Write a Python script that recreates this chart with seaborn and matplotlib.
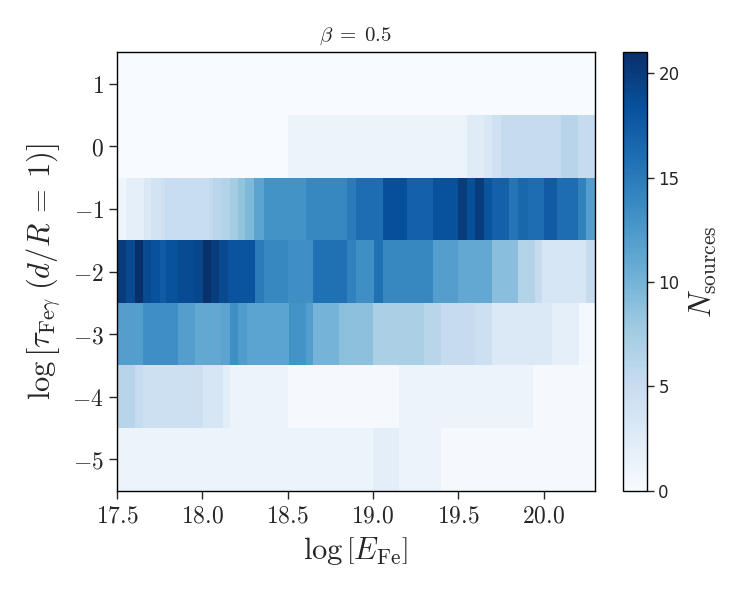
import numpy as np
import pandas as pd
import matplotlib
matplotlib.use("Agg")
import matplotlib.pyplot as plt
import seaborn as sns

# log tau rows (top to bottom)
log_tau_rows = [1, 0, -1, -2, -3, -4, -5]

# Each row: left edges of constant-count segments in log E, and counts
row_p1_edges = [17.5]
row_p1_counts = [0]

row_0_edges = [17.5, 18.50, 19.55, 19.65, 19.70, 19.75, 20.10, 20.20]
row_0_counts = [0, 1.2, 2.5, 3.3, 4.3, 5.2, 6.3, 5.2]

row_m1_edges = [17.5, 17.557, 17.66, 17.70, 17.76, 17.78, 18.04, 18.06, 18.11, 18.16,
                18.21, 18.25, 18.30, 18.36, 18.61, 18.85, 18.90, 19.06, 19.20, 19.35,
                19.50, 19.55, 19.60, 19.65, 19.70, 19.80, 19.85, 19.91, 20.00, 20.08,
                20.20, 20.25]
row_m1_counts = [1, 2, 3, 4, 4.5, 5, 5.5, 6, 6.5, 7.5,
                 8.5, 9.5, 11.5, 13, 14, 15, 16, 18.5, 17, 18.3,
                 20, 18.5, 20, 18, 17, 15.5, 16.5, 16, 17.5, 16,
                 14.5, 12]

row_m2_edges = [17.5, 17.557, 17.605, 17.654, 17.70, 17.75, 17.79, 17.86, 17.96, 18.005,
                18.05, 18.10, 18.15, 18.31, 18.36, 18.50, 18.65, 18.85, 18.90, 19.005,
                19.06, 19.35, 19.50, 19.70, 19.85, 19.95, 19.99, 20.25]
row_m2_counts = [20, 19, 21, 19, 18.3, 17.5, 18.3, 18.8, 19.2, 21,
                 20, 19, 18.2, 15, 14, 13.3, 15.8, 14.5, 13.3, 15.8,
                 14, 12, 11, 9, 6.5, 5.2, 3.5, 5.2]

row_m3_edges = [17.5, 17.654, 17.86, 17.96, 18.11, 18.16, 18.21, 18.26, 18.51, 18.61,
                18.65, 18.80, 19.00, 19.30, 19.40, 19.60, 19.70, 20.05, 20.21]
row_m3_counts = [12, 13.3, 12, 11, 11.5, 13.3, 12.3, 11.5, 13, 12,
                 10, 8.8, 7, 6.2, 5.2, 4.5, 3, 2, 0.5]

row_m4_edges = [17.5, 17.605, 17.654, 18.005, 18.12, 18.16, 18.50, 19.155, 19.94]
row_m4_counts = [6.3, 5.3, 4.5, 3.5, 2.3, 1.3, 0.3, 1.2, 0.3]

row_m5_edges = [17.5, 19.00, 19.155, 19.40]
row_m5_counts = [1.2, 2.2, 1.2, 0.3]

rows = [(row_p1_edges, row_p1_counts), (row_0_edges, row_0_counts),
        (row_m1_edges, row_m1_counts), (row_m2_edges, row_m2_counts),
        (row_m3_edges, row_m3_counts), (row_m4_edges, row_m4_counts),
        (row_m5_edges, row_m5_counts)]

x_ticks = [17.5, 18.0, 18.5, 19.0, 19.5, 20.0]
x_min, x_max, step = 17.5, 20.3, 0.005

ncol = int(round((x_max - x_min) / step))
centers = x_min + step * (np.arange(ncol) + 0.5)
grid = []
for edges, counts in rows:
    idx = np.searchsorted(edges, centers, side="right") - 1
    grid.append(np.asarray(counts, dtype=float)[idx])
df = pd.DataFrame(grid, index=log_tau_rows, columns=np.round(centers, 4))

sns.set_style("ticks")
plt.rcParams["mathtext.fontset"] = "cm"
plt.rcParams["font.family"] = ["DejaVu Sans"]

fig = plt.figure(figsize=(7.5, 6), dpi=100)
ax = fig.add_axes([0.156, 0.182, 0.637, 0.731])
cax = fig.add_axes([0.831, 0.182, 0.031, 0.731])

sns.heatmap(df, ax=ax, cbar_ax=cax, cmap="Blues", vmin=0, vmax=21,
            xticklabels=False, yticklabels=False, rasterized=True)

ax.set_xticks([(v - x_min) / step for v in x_ticks])
ax.set_xticklabels([rf"${v:.1f}$" for v in x_ticks])
ax.set_yticks([i + 0.5 for i in range(len(log_tau_rows))])
ax.set_yticklabels([rf"${v}$" if v >= 0 else rf"$-{abs(v)}$" for v in log_tau_rows],
                   rotation=0)
for s in ax.spines.values():
    s.set_visible(True)
    s.set_linewidth(1.0)
    s.set_color("black")
ax.tick_params(direction="out", length=6, width=1, labelsize=17,
               left=True, bottom=True, top=False, right=False)

ax.set_xlabel(r"$\log\left[E_{\mathrm{Fe}}\right]$", fontsize=22, labelpad=5)
ax.set_ylabel(r"$\log\left[\tau_{\mathrm{Fe}\gamma}\;(d/R\:=\:1)\right]$", fontsize=22, labelpad=7)
ax.set_title(r"$\beta\;=\;0.5$", fontsize=15, pad=8)

cbar = ax.collections[0].colorbar
cbar.outline.set_visible(True)
cbar.outline.set_linewidth(1.0)
cbar.outline.set_edgecolor("black")
cbar.set_ticks([0, 5, 10, 15, 20])
cax.tick_params(labelsize=12, length=5, width=1, direction="out")
cbar.set_label(r"$N_{\mathrm{sources}}$", fontsize=22, labelpad=6)

fig.savefig("out.png", dpi=100)
